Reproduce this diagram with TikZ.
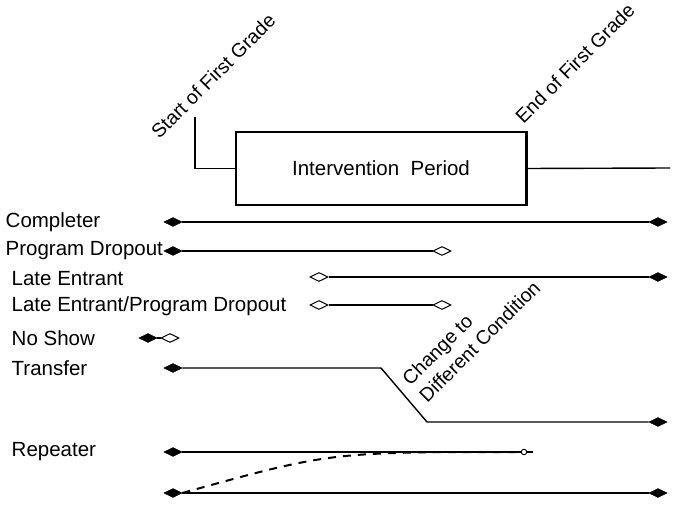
\documentclass[tikz,border=0pt]{standalone}
\usepackage{fontspec}
\setmainfont{Liberation Sans}
\usetikzlibrary{shapes.geometric}

\begin{document}
\begin{tikzpicture}
            [x=1pt,y=-1pt,line width=1.4pt,
             every node/.style={font=\fontsize{20.5}{24}\selectfont},
             lbl/.style={anchor=west,inner sep=0pt},
             tilt/.style={anchor=base west,rotate=45,inner sep=0pt,font=\fontsize{19.5}{23}\selectfont},
             fdia/.style={diamond,draw,fill=black,line width=0.6pt,aspect=2,minimum width=18pt,minimum height=9pt,inner sep=0pt},
             odia/.style={diamond,draw,fill=white,line width=1pt,aspect=2,minimum width=18pt,minimum height=9pt,inner sep=0pt}]
            \useasboundingbox (0,0) rectangle (683,505);

            % time line at the top
            \node[draw,minimum width=290pt,minimum height=73pt] (box) at (381,168.5) {Intervention\ \ Period};
            \draw[line width=3pt] (box.north east) -- (box.south east);
            \node[tilt] (start) at (159,140) {Start of First Grade};
            \node[tilt] (end) at (523,125) {End of First Grade};
            \coordinate (sg) at (195,117);
            \coordinate (eg) at (670,168);
            \draw (sg) |- (box.west);
            \draw (box.east) -- (eg);

            % labels
            \node[lbl] (l1) at (5,222) {Completer};
            \node[lbl] (l2) at (5,251) {Program Dropout};
            \node[lbl] (l3) at (11,279) {Late Entrant};
            \node[lbl] (l4) at (11,306) {Late Entrant/Program Dropout};
            \node[lbl] (l5) at (11,338) {No Show};
            \node[lbl] (l6) at (11,368) {Transfer};
            \node[lbl] (l7) at (11,452) {Repeater};

            % markers
            \node[fdia] (a1) at (173,222) {};
            \node[fdia] (a2) at (658,222) {};
            \node[fdia] (b1) at (173,251) {};
            \node[odia] (b2) at (442,251) {};
            \node[odia] (c1) at (319,277) {};
            \node[fdia] (c2) at (658,277) {};
            \node[odia] (d1) at (319,305) {};
            \node[odia] (d2) at (442,305) {};
            \node[fdia] (e1) at (148,338) {};
            \node[odia] (e2) at (170,338) {};
            \node[fdia] (f1) at (173,368) {};
            \node[fdia] (f2) at (658,422) {};
            \node[fdia] (g1) at (173,452) {};
            \node[circle,draw,fill=white,line width=0.9pt,inner sep=0pt,minimum size=5.5pt] (g2) at (524,452) {};
            \coordinate (g3) at (533,452);
            \node[fdia] (h1) at (173,493) {};
            \node[fdia] (h2) at (658,493) {};

            \draw (a1) -- (a2);
            \draw (b1) -- (b2);
            \draw (c1) -- (c2);
            \draw (d1) -- (d2);
            \draw (e1) -- (e2);
            \draw (f1) -- (381,368) -- (427,422) -- (f2);
            \draw (g1) -- (g2) -- (g3);
            \draw (h1) -- (h2);
            \draw[line width=2pt,dash pattern=on 8pt off 7pt] (h1.east) .. controls (330,452) .. (g2);

            \node[tilt] (chg) at (410,387) {Change to};
            \node[tilt] (dif) at (427,404) {Different Condition};
          \end{tikzpicture}
\end{document}
